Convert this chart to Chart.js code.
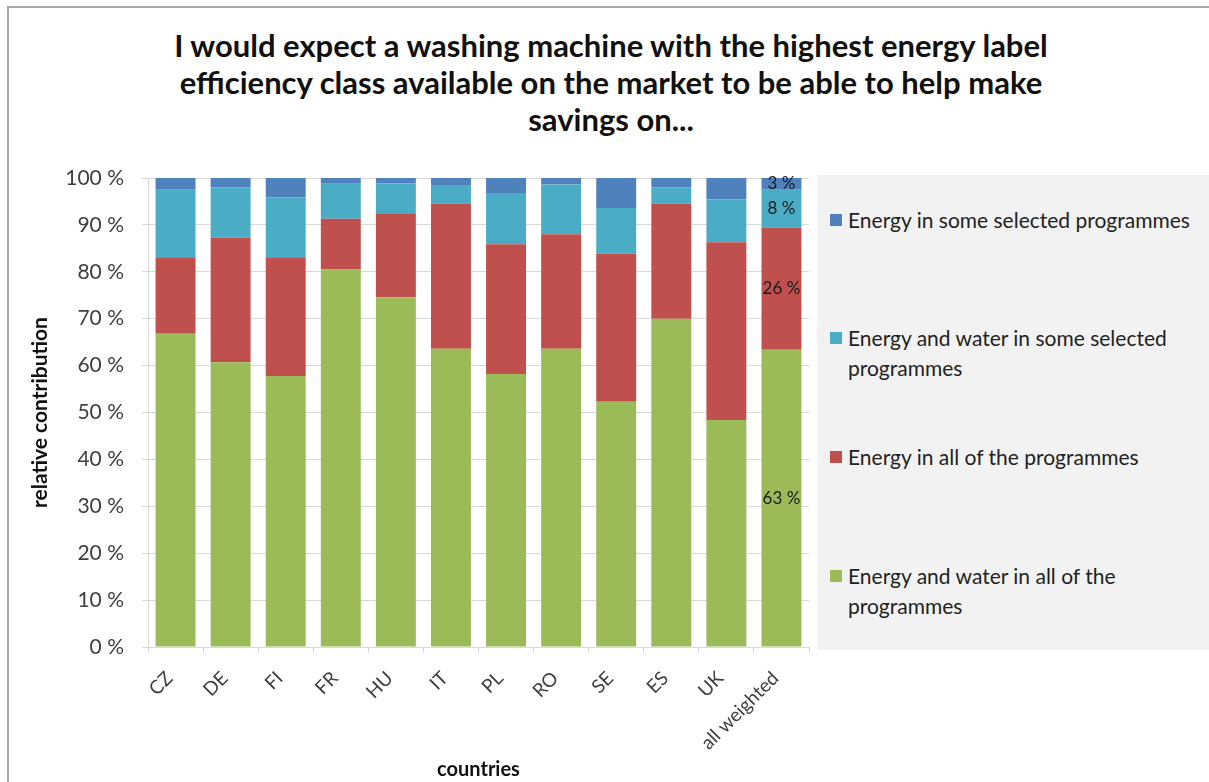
<!DOCTYPE html>
<html>
<head>
<meta charset="utf-8">
<script src="https://cdn.jsdelivr.net/npm/chart.js@4/dist/chart.umd.min.js"></script>
<style>
  body { margin: 0; background: #fff; font-family: Lato, "Open Sans", sans-serif; }
  #wrap { position: relative; width: 1209px; height: 782px; overflow: hidden; }
  #frame { position: absolute; left: 7px; top: 6px; width: 1220px; height: 800px; border: 2px solid #a9a9a9; box-sizing: border-box; }
  #title { position: absolute; left: 111px; top: 27px; width: 1000px; text-align: center; font-weight: bold; font-size: 31px; line-height: 37px; color: #111; }
  #legend { position: absolute; left: 817px; top: 175px; width: 392px; height: 475px; background: #f2f2f2; }
  .item { position: absolute; left: 13px; width: 358px; font-size: 21px; line-height: 30px; color: #222; padding-left: 18px; }
  .item span { position: absolute; left: 0; top: 9px; width: 12px; height: 12px; }
  canvas { position: absolute; left: 0; top: 0; }
</style>
</head>
<body>
<div id="wrap">
  <div id="frame"></div>
  <div id="title">I would expect a washing machine with the highest energy label<br>efficiency class available on the market to be able to help make<br>savings on...</div>
  <canvas id="chart" width="1209" height="782"></canvas>
  <div id="legend"></div>
</div>
<script>
// categories and series (percent of respondents)
const countries = ['CZ', 'DE', 'FI', 'FR', 'HU', 'IT', 'PL', 'RO', 'SE', 'ES', 'UK', 'all weighted'];
const waterAll = [66.8, 60.7, 57.8, 80.5, 74.6, 63.6, 58.2, 63.6, 52.3, 70.0, 48.4, 63.4];
const energyAll = [16.3, 26.6, 25.3, 10.8, 17.9, 30.9, 27.7, 24.4, 31.6, 24.5, 37.9, 26.0];
const waterSome = [14.4, 10.7, 12.8, 7.5, 6.4, 4.0, 10.9, 10.6, 9.7, 3.5, 9.1, 8.1];
const energySome = [2.5, 2.0, 4.1, 1.2, 1.1, 1.5, 3.2, 1.4, 6.4, 2.0, 4.6, 2.5];
const yTicks = [0, 10, 20, 30, 40, 50, 60, 70, 80, 90, 100];

const seriesNames = [
  'Energy and water in all of the programmes',
  'Energy in all of the programmes',
  'Energy and water in some selected programmes',
  'Energy in some selected programmes'
];
const seriesColors = ['#9bbb59', '#c0504d', '#4bacc6', '#4f81bd'];
const seriesData = [waterAll, energyAll, waterSome, energySome];

// labels on the last bar only
const labelBar = countries.length - 1;
const barLabels = {
  id: 'barLabels',
  afterDatasetsDraw(chart) {
    const ctx = chart.ctx;
    ctx.save();
    ctx.font = '17px Lato, sans-serif';
    ctx.fillStyle = '#1a1a1a';
    ctx.textAlign = 'center';
    ctx.textBaseline = 'middle';
    chart.data.datasets.forEach((ds, i) => {
      const bar = chart.getDatasetMeta(i).data[labelBar];
      const v = ds.data[labelBar];
      ctx.fillText(Math.round(v) + ' %', bar.x, (bar.y + bar.base) / 2);
    });
    ctx.restore();
  }
};

const tickColor = '#404040';
const gridColor = '#d9d9d9';

new Chart(document.getElementById('chart'), {
  type: 'bar',
  data: {
    labels: countries,
    datasets: seriesData.map((d, i) => ({
      label: seriesNames[i],
      data: d,
      backgroundColor: seriesColors[i],
      borderWidth: 0,
      barPercentage: 0.725,
      categoryPercentage: 1
    }))
  },
  options: {
    responsive: false,
    animation: false,
    layout: { padding: { top: 178, right: 400, left: 0, bottom: 0 } },
    plugins: {
      legend: { display: false },
      tooltip: { enabled: false }
    },
    scales: {
      x: {
        stacked: true,
        grid: { display: true, drawOnChartArea: false, drawTicks: true, tickLength: 6, color: gridColor, offset: true },
        border: { color: gridColor },
        ticks: { color: tickColor, font: { family: 'Lato', size: 19 }, minRotation: 45, maxRotation: 45, padding: 14, labelOffset: -6 },
        title: { display: true, text: 'countries', color: '#111', font: { family: 'Lato', size: 20, weight: 'bold' }, padding: { top: 0, bottom: 0 } },
        afterFit(scale) { scale.height = 135; }
      },
      y: {
        stacked: true,
        min: 0,
        max: 100,
        afterBuildTicks(scale) { scale.ticks = yTicks.map(v => ({ value: v })); },
        grid: { color: gridColor, tickLength: 6 },
        border: { color: gridColor },
        ticks: { color: tickColor, font: { family: 'Lato', size: 21 }, padding: 18, callback: v => v + ' %' },
        title: { display: true, text: 'relative contribution', color: '#111', font: { family: 'Lato', size: 21, weight: 'bold' }, padding: { top: 28, bottom: 0 } },
        afterFit(scale) { scale.width = 148; }
      }
    }
  },
  plugins: [barLabels]
});

// legend on the grey box, top series first
const legendTops = [30, 148, 267, 386];
const legend = document.getElementById('legend');
[3, 2, 1, 0].forEach((s, k) => {
  const item = document.createElement('div');
  item.className = 'item';
  item.style.top = legendTops[k] + 'px';
  item.innerHTML = '<span style="background:' + seriesColors[s] + '"></span>' + seriesNames[s];
  legend.appendChild(item);
});
</script>
</body>
</html>
